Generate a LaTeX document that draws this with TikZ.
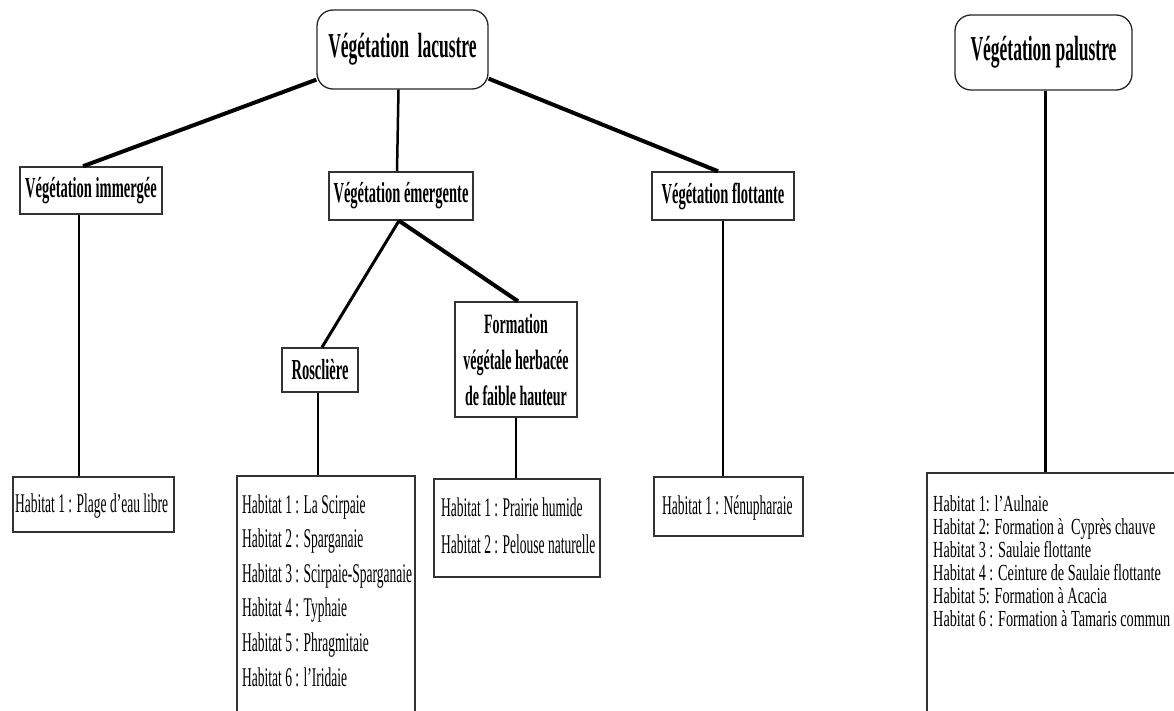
\documentclass[tikz,border=0pt]{standalone}
\usepackage{fontspec}
\setmainfont{Liberation Serif}
\newfontfamily\narrow[FakeStretch=0.5]{Liberation Serif}
\newfontfamily\narrowpal[FakeStretch=0.62]{Liberation Serif}

\begin{document}
\begin{tikzpicture}[x=1pt,y=-1pt,
    titre/.style={draw=black!85,line width=1.3pt,rounded corners=16pt,inner sep=0pt,
        font=\narrow\bfseries\fontsize{35}{40}\selectfont},
    boite/.style={draw=black!80,line width=1.5pt,inner sep=0pt,
        font=\narrow\bfseries\fontsize{29}{36}\selectfont},
    hab/.style={draw=black!80,line width=1.5pt,inner sep=0pt},
    ligne/.style={inner sep=0pt,anchor=base west,font=\narrow\fontsize{27}{32}\selectfont},
    lignepal/.style={ligne,font=\narrowpal\fontsize{23}{28}\selectfont},
    lien/.style={line width=4pt},
    tige/.style={line width=2.5pt}]
    \useasboundingbox (0,0) rectangle (1174,711);
    \clip (0,0) rectangle (1174,711);

    % Titres
    \node[titre,minimum width=171pt,minimum height=79pt] (lacustre) at (402.5,49.5) {Végétation\ \ lacustre};
    \node[titre,minimum width=177pt,minimum height=75pt] (palustre) at (1043.5,52.5) {Végétation palustre};

    % Types de végétation
    \node[boite,minimum width=142pt,minimum height=47pt] (immergee) at (91,190.5) {Végétation immergée};
    \node[boite,minimum width=144pt,minimum height=48pt] (emergente) at (401,196) {Végétation émergente};
    \node[boite,minimum width=142pt,minimum height=48pt] (flottante) at (723,196) {Végétation flottante};
    \node[boite,minimum width=76pt,minimum height=44pt] (roscliere) at (320,370) {Rosclière};
    \node[boite,minimum width=122pt,minimum height=115pt,align=center,
        font=\narrow\bfseries\fontsize{28}{36}\selectfont] (formation) at (516,359.5)
        {Formation\\végétale herbacée\\de faible hauteur};

    % Cadres des habitats
    \node[hab,minimum width=161pt,minimum height=55pt] (habimm) at (93.5,504.5) {};
    \node[hab,minimum width=178pt,minimum height=260pt] (habros) at (326,606) {};
    \node[hab,minimum width=166pt,minimum height=98pt] (habform) at (517,528) {};
    \node[hab,minimum width=149pt,minimum height=59pt] (habflot) at (728.5,506.5) {};
    \node[hab,minimum width=263pt,minimum height=257pt] (habpal) at (1058.5,601.5) {};

    % Liens
    \draw[lien] ([yshift=10pt]lacustre.south west) -- ([xshift=-8pt]immergee.north);
    \draw[tige] ([xshift=-4pt]lacustre.south) -- ([xshift=-4pt]emergente.north);
    \draw[lien] ([yshift=11pt]lacustre.south east) -- ([xshift=-5pt]flottante.north);
    \draw[line width=3pt] ([xshift=-2pt]emergente.south) -- ([xshift=2pt]roscliere.north);
    \draw[lien] ([xshift=-2pt]emergente.south) -- ([xshift=2pt]formation.north);
    \draw[tige] ([xshift=-12pt]immergee.south) -- ([xshift=-12pt]immergee.south |- habimm.north);
    \draw[tige] ([xshift=-2pt]roscliere.south) -- ([xshift=-2pt]roscliere.south |- habros.north);
    \draw[tige] (formation.south) -- (formation.south |- habform.north);
    \draw[tige] (flottante.south) -- (flottante.south |- habflot.north);
    \draw[tige] ([xshift=2pt]palustre.south) -- ([xshift=2pt]palustre.south |- habpal.north);

    % Habitats
    \node[ligne] (imm1) at (15,512) {Habitat 1 : Plage d’eau libre};
    \foreach \i/\txt in {1/La Scirpaie,2/Sparganaie,3/Scirpaie-Sparganaie,4/Typhaie,5/Phragmitaie,6/l’Iridaie}
        \node[ligne] (ros\i) at (242,{513+34.6*(\i-1)}) {Habitat \i\ : \txt};
    \foreach \i/\txt in {1/Prairie humide,2/Pelouse naturelle}
        \node[ligne] (form\i) at (441,{516+37*(\i-1)}) {Habitat \i\ : \txt};
    \node[ligne] (flot1) at (662,514) {Habitat 1 : Nénupharaie};
    \foreach \i/\txt in {1/{Habitat 1: l’Aulnaie},2/{Habitat 2: Formation à\ \ Cyprès chauve},
        3/{Habitat 3 : Saulaie flottante},4/{Habitat 4 : Ceinture de Saulaie flottante},
        5/{Habitat 5: Formation à Acacia},6/{Habitat 6 : Formation à Tamaris commun}}
        \node[lignepal] (pal\i) at (933,{511+23*(\i-1)}) {\txt};
\end{tikzpicture}
\end{document}
